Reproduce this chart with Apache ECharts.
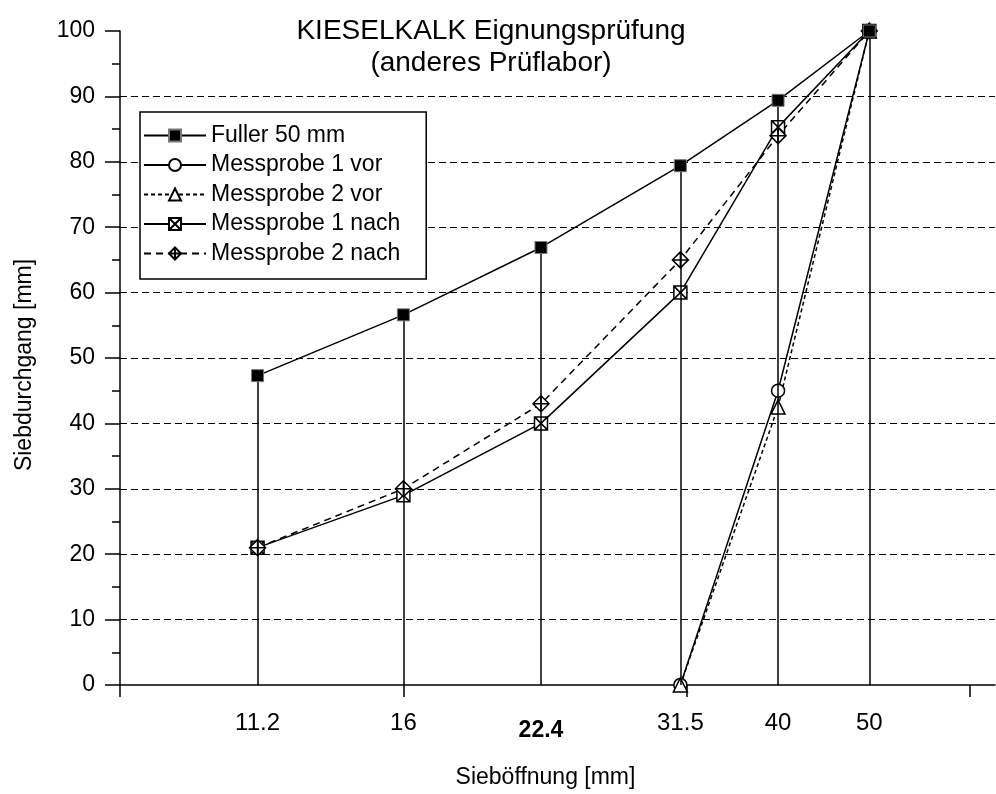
<!DOCTYPE html>
<html>
<head>
<meta charset="utf-8">
<script src="https://cdn.jsdelivr.net/npm/echarts@6/dist/echarts.min.js"></script>
<style>
  html, body { margin: 0; padding: 0; background: #fff; }
  #chart { width: 996px; height: 794px; }
</style>
</head>
<body>
<div id="chart"></div>
<script>
// Sieve openings (mm) and passing percentages
const sieveSizes = [11.2, 16, 22.4, 31.5, 40, 50];
const fullerPassing = [47.3, 56.6, 66.9, 79.4, 89.4, 100];

const vorSizes = [31.5, 40, 50];
const probe1Vor = [0, 45, 100];
const probe2Vor = [0, 42.5, 100];

const probe1Nach = [21, 29, 40, 60, 85.3, 100];
const probe2Nach = [21, 30, 43, 65, 84, 100];

// Axis ticks
const xTickValues = [8, 16, 32, 64];
const xLabelValues = [11.2, 16, 22.4, 31.5, 40, 50];
const boldLabel = 22.4;

const FONT = 'Liberation Sans, Arial, sans-serif';

const pairs = (xs, ys) => xs.map((x, i) => [x, ys[i]]);

const squareX = 'path://M0,0 L10,0 L10,10 L0,10 Z M0,0 L10,10 M10,0 L0,10';
const diamondCross = 'path://M5,0 L10,5 L5,10 L0,5 Z M5,0 L5,10 M0,5 L10,5';

const openStyle = { color: '#fff', borderColor: '#000', borderWidth: 1.5 };

const chart = echarts.init(document.getElementById('chart'), null, { renderer: 'canvas' });

chart.setOption({
  animation: false,
  backgroundColor: '#fff',
  textStyle: { fontFamily: FONT, color: '#000' },
  title: {
    text: 'KIESELKALK Eignungsprüfung\n(anderes Prüflabor)',
    left: 486,
    top: 10,
    textAlign: 'center',
    textStyle: { fontFamily: FONT, fontSize: 28, fontWeight: 'normal', lineHeight: 32, color: '#000' }
  },
  grid: { left: 120, right: 1, top: 31, bottom: 108, containLabel: false },
  legend: {
    orient: 'vertical',
    left: 140,
    top: 112,
    padding: [11, 26, 13, 3],
    backgroundColor: '#fff',
    borderColor: '#000',
    borderWidth: 1.5,
    borderRadius: 0,
    itemWidth: 62,
    itemHeight: 15,
    itemGap: 4.5,
    textStyle: { fontFamily: FONT, fontSize: 23, color: '#000', lineHeight: 25, padding: [0, 0, 0, 0] },
    data: ['Fuller 50 mm', 'Messprobe 1 vor', 'Messprobe 2 vor', 'Messprobe 1 nach', 'Messprobe 2 nach']
  },
  xAxis: {
    type: 'log',
    logBase: 2,
    min: 8,
    max: 68,
    name: 'Sieböffnung [mm]',
    nameLocation: 'middle',
    nameGap: 81,
    nameTextStyle: { fontFamily: FONT, fontSize: 23, color: '#000', padding: [0, 24, 0, 0] },
    axisLine: { show: true, onZero: false, lineStyle: { color: '#000', width: 1.5 } },
    axisTick: { show: true, inside: false, length: 12, customValues: xTickValues, lineStyle: { color: '#000', width: 1.5 } },
    minorTick: { show: false },
    splitLine: { show: false },
    axisLabel: {
      customValues: xLabelValues,
      margin: 26,
      fontFamily: FONT,
      fontSize: 24,
      color: '#000',
      formatter: v => (Math.abs(v - boldLabel) < 1e-6 ? '{b|' + v + '}' : '{n|' + v + '}'),
      rich: {
        n: { fontFamily: FONT, fontSize: 24, color: '#000' },
        b: { fontFamily: FONT, fontSize: 23, fontWeight: 'bold', color: '#000', padding: [8, 0, 0, 0] }
      }
    }
  },
  yAxis: {
    type: 'value',
    min: 0,
    max: 100,
    interval: 10,
    name: 'Siebdurchgang [mm]',
    nameLocation: 'middle',
    nameGap: 84,
    nameRotate: 90,
    nameTextStyle: { fontFamily: FONT, fontSize: 23, color: '#000', padding: [0, 14, 0, 0] },
    axisLine: { show: true, lineStyle: { color: '#000', width: 1.5 } },
    axisTick: { show: true, inside: false, length: 15, lineStyle: { color: '#000', width: 1.5 } },
    minorTick: { show: true, splitNumber: 2, length: 8, lineStyle: { color: '#000', width: 1.5 } },
    axisLabel: { margin: 25, fontFamily: FONT, fontSize: 23, color: '#000' },
    splitLine: {
      show: true,
      showMinLine: false,
      showMaxLine: false,
      lineStyle: { color: '#000', width: 1.2, type: [7, 4] }
    }
  },
  series: [
    {
      name: 'Fuller 50 mm',
      type: 'line',
      data: pairs(sieveSizes, fullerPassing),
      symbol: 'rect',
      symbolSize: 12,
      lineStyle: { color: '#000', width: 1.5 },
      itemStyle: { color: '#000', borderColor: '#777', borderWidth: 1 },
      z: 5,
      markLine: {
        silent: true,
        symbol: 'none',
        label: { show: false },
        lineStyle: { color: '#000', width: 1.5, type: 'solid' },
        data: sieveSizes.map((x, i) => [{ coord: [x, 0] }, { coord: [x, fullerPassing[i]] }])
      }
    },
    {
      name: 'Messprobe 1 vor',
      type: 'line',
      data: pairs(vorSizes, probe1Vor),
      symbol: 'circle',
      symbolSize: 13,
      lineStyle: { color: '#000', width: 1.5 },
      itemStyle: openStyle,
      z: 4
    },
    {
      name: 'Messprobe 2 vor',
      type: 'line',
      data: pairs(vorSizes, probe2Vor),
      symbol: 'triangle',
      symbolSize: 14,
      lineStyle: { color: '#000', width: 1.5, type: [4, 3] },
      itemStyle: openStyle,
      z: 4
    },
    {
      name: 'Messprobe 1 nach',
      type: 'line',
      data: pairs(sieveSizes, probe1Nach),
      symbol: squareX,
      symbolSize: 13,
      lineStyle: { color: '#000', width: 1.5 },
      itemStyle: openStyle,
      z: 4
    },
    {
      name: 'Messprobe 2 nach',
      type: 'line',
      data: pairs(sieveSizes, probe2Nach),
      symbol: diamondCross,
      symbolSize: 16,
      lineStyle: { color: '#000', width: 1.5, type: [7, 5] },
      itemStyle: openStyle,
      z: 4
    }
  ]
});
</script>
</body>
</html>
